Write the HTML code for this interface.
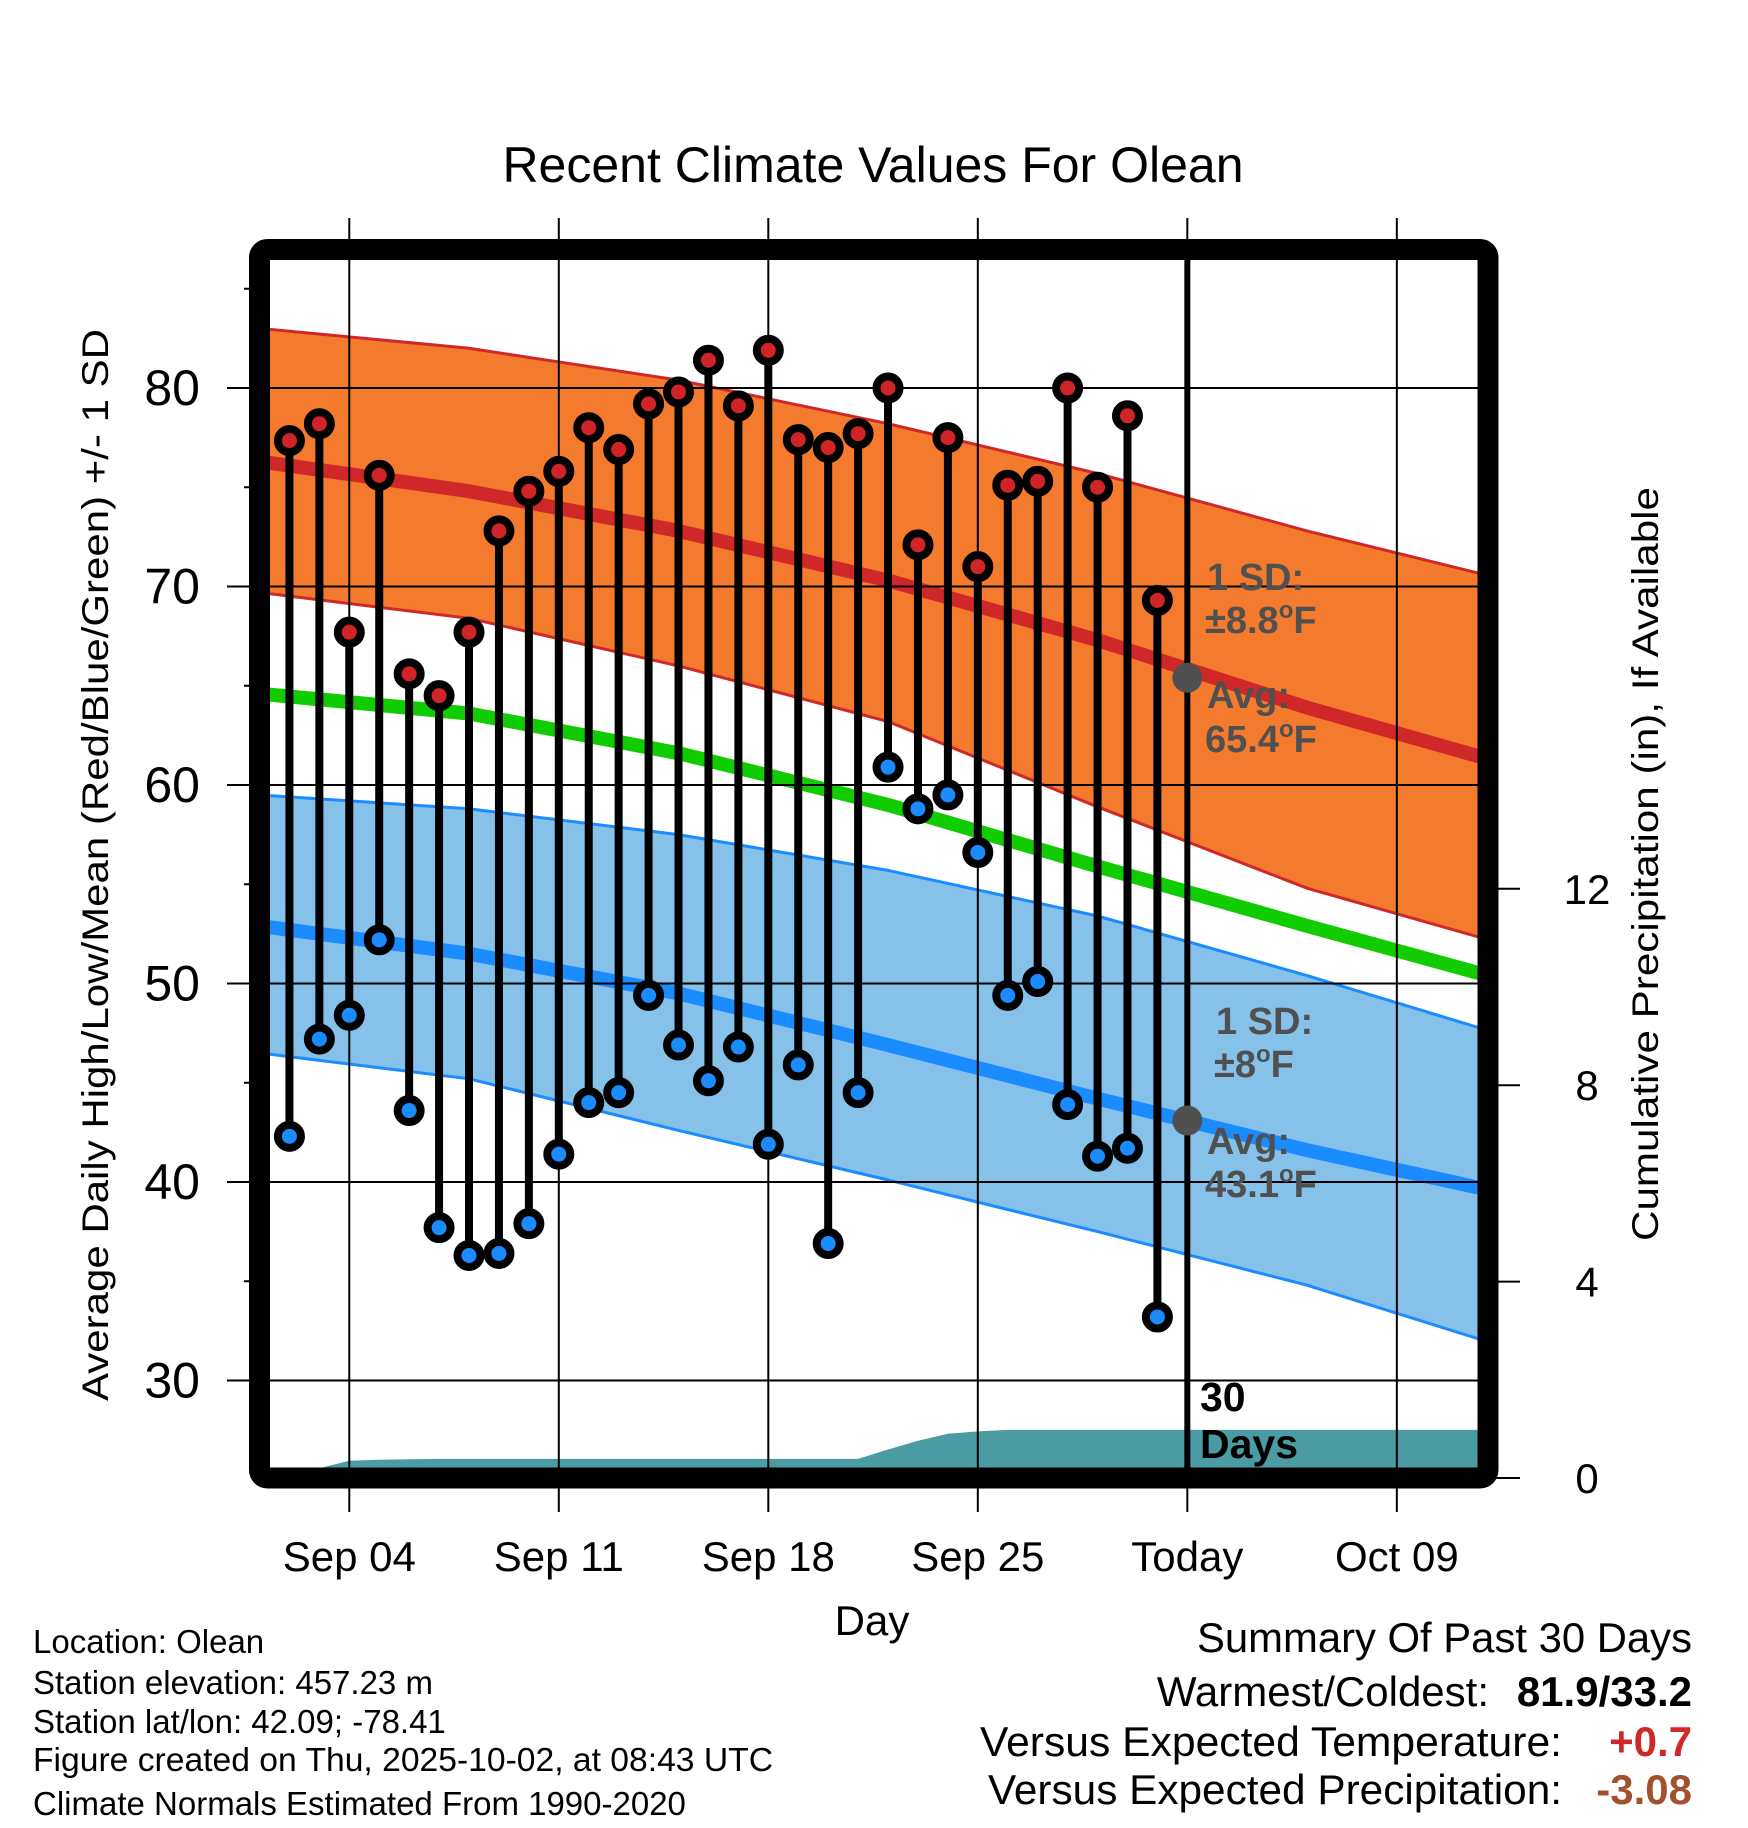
<!DOCTYPE html>
<html><head><meta charset="utf-8"><style>
html,body{margin:0;padding:0;background:#fff}
svg{display:block;font-family:"Liberation Sans",Arial,sans-serif}
</style></head><body>
<svg id="chart" width="1748" height="1828" viewBox="0 0 1748 1828" xmlns="http://www.w3.org/2000/svg">
<defs><clipPath id="inner"><rect x="270" y="260" width="1208" height="1208"/></clipPath></defs>
<rect width="1748" height="1828" fill="#fff"/>
<text x="873" y="182" font-size="50" text-anchor="middle">Recent Climate Values For Olean</text>
<g id="plot" clip-path="url(#inner)"></g>
<g id="over"></g>
<rect x="259.5" y="249.5" width="1228.5" height="1228.5" rx="8" fill="none" stroke="#000" stroke-width="21"/>
<g id="axes"></g>
<text x="872" y="1635" font-size="42" text-anchor="middle">Day</text>
<text transform="translate(108,865) rotate(-90)" font-size="37" text-anchor="middle" textLength="1072" lengthAdjust="spacingAndGlyphs">Average Daily High/Low/Mean (Red/Blue/Green) +/- 1 SD</text>
<text transform="translate(1658,864) rotate(-90)" font-size="37" text-anchor="middle" textLength="754" lengthAdjust="spacingAndGlyphs">Cumulative Precipitation (in), If Available</text>
<g font-size="33">
<text x="33" y="1653">Location: Olean</text>
<text x="33" y="1694">Station elevation: 457.23 m</text>
<text x="33" y="1733">Station lat/lon: 42.09; -78.41</text>
<text x="33" y="1771" textLength="740" lengthAdjust="spacingAndGlyphs">Figure created on Thu, 2025-10-02, at 08:43 UTC</text>
<text x="33" y="1815">Climate Normals Estimated From 1990-2020</text>
</g>
<g font-size="42" text-anchor="end">
<text x="1692" y="1652" textLength="495" lengthAdjust="spacingAndGlyphs">Summary Of Past 30 Days</text>
<text x="1489" y="1706">Warmest/Coldest:</text>
<text x="1692" y="1706" font-weight="bold">81.9/33.2</text>
<text x="1562" y="1756" textLength="582" lengthAdjust="spacingAndGlyphs">Versus Expected Temperature:</text>
<text x="1692" y="1756" font-weight="bold" fill="#d02828">+0.7</text>
<text x="1562" y="1804" textLength="574" lengthAdjust="spacingAndGlyphs">Versus Expected Precipitation:</text>
<text x="1692" y="1804" font-weight="bold" fill="#a0522d">-3.08</text>
</g>
</svg>
<script>
// ---- data ----
const dayIdx=[1,2,3,4,5,6,7,8,9,10,11,12,13,14,15,16,17,18,19,20,21,22,23,24,25,26,27,28,29,30];
const highs=[77.35,78.2,67.7,75.6,65.6,64.5,67.7,72.8,74.8,75.8,78.0,76.9,79.2,79.8,81.4,79.1,81.9,77.4,77.0,77.7,80.0,72.1,77.5,71.0,75.1,75.3,80.0,75.0,78.6,69.3];
const lows=[42.3,47.2,48.4,52.2,43.6,37.7,36.3,36.4,37.9,41.4,44.0,44.5,49.4,46.9,45.1,46.8,41.9,45.9,36.9,44.5,60.9,58.8,59.5,56.6,49.4,50.1,43.9,41.3,41.7,33.2];
const precipDays=[0,1,2,3,4,5,6,10,15,20,21,22,23,24,25,30,42];
const precipCum=[0.2,0.2,0.2,0.35,0.37,0.38,0.39,0.39,0.39,0.39,0.58,0.76,0.9,0.95,0.98,0.98,0.98];
const normDays=[0,7,14,21,28,35,42];
const normHigh=[76.3,74.8,72.8,70.3,67.3,63.9,60.9];
const normHighUp=[83.0,82.0,80.4,78.2,75.7,72.8,70.2];
const normHighLo=[69.7,68.4,66.0,63.2,58.9,54.8,51.8];
const normMean=[64.6,63.6,61.6,59.0,55.9,52.9,50.0];
const normLow=[52.9,51.5,49.5,46.9,44.2,41.6,39.3];
const normLowUp=[59.5,58.8,57.5,55.7,53.4,50.4,47.2];
const normLowLo=[46.5,45.2,42.6,40.1,37.5,34.8,31.5];
const yTicks=[30,40,50,60,70,80];
const yMinor=[35,45,55,65,75,85];
const pTicks=[0,4,8,12];
const xTickDays=[3,10,17,24,31,38];
const xTickLabels=["Sep 04","Sep 11","Sep 18","Sep 25","Today","Oct 09"];
const todayDay=31;
const todayHigh=65.4, todayLow=43.1;
// ---- scales ----
const X=d=>259.5+d*29.93;
const Y=t=>388+(80-t)*19.85;
const YP=p=>1478-p*49.1;
const NS="http://www.w3.org/2000/svg";
function mk(tag,attrs,parent){const e=document.createElementNS(NS,tag);for(const k in attrs)e.setAttribute(k,attrs[k]);parent.appendChild(e);return e;}
const plot=document.getElementById('plot'),over=document.getElementById('over'),axes=document.getElementById('axes');
const pts=(ds,vs)=>ds.map((d,i)=>X(d).toFixed(1)+','+Y(vs[i]).toFixed(1));
function band(up,lo,fill,edge,name){
  const p=mk('polygon',{points:pts(normDays,up).concat(pts(normDays,lo).reverse()).join(' '),fill:fill},plot);
  
  
  [up,lo].forEach(a=>{const l=mk('polyline',{points:pts(normDays,a).join(' '),fill:'none',stroke:edge,'stroke-width':3},plot);
    
    });
}
band(normHighUp,normHighLo,'#f47a2e','#d02828','high-sd-band');
band(normLowUp,normLowLo,'#85c1e9','#1a8cff','low-sd-band');
// precip
{const a=precipDays.map((d,i)=>X(d).toFixed(1)+','+YP(precipCum[i]).toFixed(1));
 a.push(X(42)+','+1480,X(0)+','+1480);
 const p=mk('polygon',{points:a.join(' '),fill:'#4a9ba3'},plot);
 
 }
// gridlines
yTicks.forEach(t=>{const l=mk('line',{x1:227,x2:1478,y1:Y(t),y2:Y(t),stroke:'#000','stroke-width':2},over);
  
  });
xTickDays.forEach(d=>{const l=mk('line',{x1:X(d),x2:X(d),y1:218,y2:1512,stroke:'#000','stroke-width':2},over);
  
  });
yMinor.forEach(t=>{const l=mk('line',{x1:244,x2:259,y1:Y(t),y2:Y(t),stroke:'#000','stroke-width':2},axes);
  
  });
// normal lines
function nline(a,col,name){const l=mk('polyline',{points:pts(normDays,a).join(' '),fill:'none',stroke:col,'stroke-width':14,'stroke-linejoin':'round'},plot);
  
  }
nline(normHigh,'#d02828','normal-high-line');
nline(normMean,'#11cc00','normal-mean-line');
nline(normLow,'#1a8cff','normal-low-line');
// stems & points
const g=mk('g',{},over);
dayIdx.forEach((d,i)=>{
  const s=mk('line',{x1:X(d),x2:X(d),y1:Y(highs[i]),y2:Y(lows[i]),stroke:'#000','stroke-width':8},g);
  
  
});
dayIdx.forEach((d,i)=>{
  const h=mk('circle',{cx:X(d),cy:Y(highs[i]),r:11.5,fill:'#d02428',stroke:'#000','stroke-width':8},g);
  
  
  const l=mk('circle',{cx:X(d),cy:Y(lows[i]),r:11.5,fill:'#1a8cff',stroke:'#000','stroke-width':8},g);
  
  
});
// today line
{const l=mk('line',{x1:X(todayDay),x2:X(todayDay),y1:255,y2:1470,stroke:'#000','stroke-width':6},over);
 
 
 const a=mk('circle',{cx:X(todayDay),cy:Y(todayHigh),r:15,fill:'#505050'},over);
 
 
 const b=mk('circle',{cx:X(todayDay),cy:Y(todayLow),r:15,fill:'#505050'},over);
 
 }
// annotations
function txt(x,y,s,attrs,name,parent){const t=mk('text',Object.assign({x:x,y:y},attrs),parent||over);t.innerHTML=s;
  
  return t;}
const ann={'font-size':38,'font-weight':'bold',fill:'#505050'};
const deg='<tspan font-size="24" dy="-15">o</tspan><tspan dy="15">F</tspan>';
txt(1207,590,'1 SD:',ann,'high-sd-label');
txt(1205,633,'±8.8'+deg,ann,'high-sd-value');
txt(1207,708,'Avg:',ann,'high-avg-label');
txt(1205,752,todayHigh.toFixed(1)+deg,ann,'high-avg-value');
txt(1216,1034,'1 SD:',ann,'low-sd-label');
txt(1214,1077,'±8'+deg,ann,'low-sd-value');
txt(1207,1154,'Avg:',ann,'low-avg-label');
txt(1205,1197,todayLow.toFixed(1)+deg,ann,'low-avg-value');
txt(1200,1411,'30',{'font-size':41,'font-weight':'bold'},'days-label-number');
txt(1200,1458,'Days',{'font-size':41,'font-weight':'bold'},'days-label-text');
// axes labels
yTicks.forEach(t=>txt(200,Y(t)+17,t,{'font-size':50,'text-anchor':'end'},'y-tick-label',axes));
pTicks.forEach(p=>{
  const l=mk('line',{x1:1488,x2:1520,y1:YP(p),y2:YP(p),stroke:'#000','stroke-width':2},axes);
  
  
  txt(1587,YP(p)+15,p,{'font-size':42,'text-anchor':'middle'},'y2-tick-label',axes);
});
xTickDays.forEach((d,i)=>txt(X(d),1571,xTickLabels[i],{'font-size':42,'text-anchor':'middle'},'x-tick-label',axes));
</script>
</body></html>
